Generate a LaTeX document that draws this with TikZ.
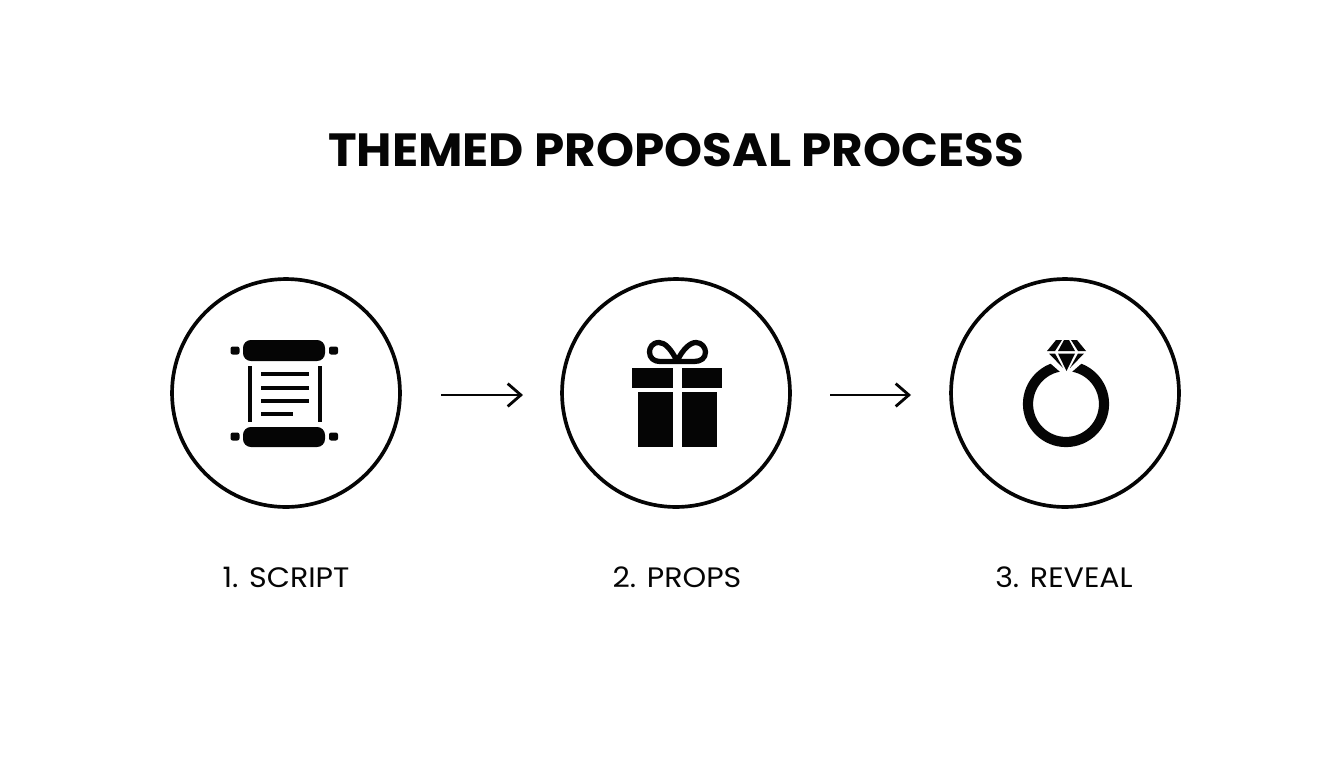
\documentclass[tikz,border=0pt]{standalone}
\usepackage{fontspec}
\setmainfont{Poppins}
\newfontfamily\titlefont[FakeStretch=1.04]{Poppins}
\newfontfamily\labelfont[FakeStretch=1.07]{Poppins}
\usetikzlibrary{arrows.meta}
\definecolor{inkblack}{RGB}{5,5,5}
\tikzset{
    stepring/.style={draw=inkblack, line width=2.1pt, circle, minimum size=4.56cm, inner sep=0pt},
    flowarrow/.style={draw=inkblack, line width=1.6pt, -{Straight Barb[length=7.5pt, width=13pt, line width=1.6pt]}},
    steplabel/.style={text=inkblack, font=\labelfont\fontsize{16pt}{18pt}\selectfont},
    titletext/.style={text=inkblack, font=\titlefont\fontsize{26.5pt}{30pt}\selectfont\bfseries},
    solid ink/.style={fill=inkblack, draw=none},
    page line/.style={draw=inkblack, line width=2.2pt}
}
\begin{document}
\begin{tikzpicture}[x=0.02cm, y=-0.02cm]
    \useasboundingbox (0, 0) rectangle (1344, 768);

    \node[titletext] (title) at (676, 150) {THEMED PROPOSAL PROCESS};

    % circles
    \node[stepring] (script) at (286, 393) {};
    \node[stepring] (props) at (676, 393) {};
    \node[stepring] (reveal) at (1065, 393) {};

    % arrows
    \coordinate (arrowa) at (441, 395);
    \coordinate (arrowb) at (523, 395);
    \coordinate (arrowc) at (830, 395);
    \coordinate (arrowd) at (911, 395);
    \draw[flowarrow] (arrowa) -- (arrowb);
    \draw[flowarrow] (arrowc) -- (arrowd);

    % labels
    \node[steplabel] (scriptlabel) at (286, 577) {1. SCRIPT};
    \node[steplabel] (propslabel) at (677, 577) {2. PROPS};
    \node[steplabel] (reveallabel) at (1064, 577) {3. REVEAL};

    % scroll
    \fill[solid ink, rounded corners=4.5pt] (243, 340) rectangle (325, 361);
    \fill[solid ink, rounded corners=4.5pt] (243, 427) rectangle (325, 447);
    \fill[solid ink, rounded corners=1.2pt] (230.5, 346.5) rectangle (239.5, 354.5);
    \fill[solid ink, rounded corners=1.2pt] (329, 346.5) rectangle (338, 354.5);
    \fill[solid ink, rounded corners=1.2pt] (230.5, 432.5) rectangle (239.5, 440.5);
    \fill[solid ink, rounded corners=1.2pt] (329, 432.5) rectangle (338, 440.5);
    \fill[solid ink] (248, 366) rectangle (252, 422);
    \fill[solid ink] (318, 366) rectangle (322, 422);
    \draw[page line] (261, 374) -- (309, 374);
    \draw[page line] (261, 388) -- (309, 388);
    \draw[page line] (261, 401) -- (309, 401);
    \draw[page line] (261, 414) -- (293, 414);

    % gift
    \fill[solid ink] (632, 368) rectangle (673, 388);
    \fill[solid ink] (682, 368) rectangle (722, 388);
    \fill[solid ink] (638, 392) rectangle (673, 447);
    \fill[solid ink] (682, 392) rectangle (717, 447);
    \draw[inkblack, line width=3pt, line join=round]
        (677, 361) .. controls (671, 349) and (665, 342.5) .. (659, 342.5)
        .. controls (652, 342.5) and (649.5, 348) .. (649.5, 352)
        .. controls (649.5, 358) and (654, 361.5) .. (660, 361.5)
        -- (694, 361.5)
        .. controls (701, 361.5) and (705.5, 358) .. (705.5, 352)
        .. controls (705.5, 348) and (702, 342.5) .. (696, 342.5)
        .. controls (690, 342.5) and (683, 349) .. (677, 361);

    % ring
    \draw[inkblack, line width=5.8pt] (1066, 404) circle (38);
    \fill[white] (1044, 350) -- (1088, 350) -- (1090, 356) -- (1066, 377) -- (1042, 356) -- cycle;
    \fill[solid ink] (1047, 351) -- (1056, 340) -- (1062, 340) -- (1055, 351) -- cycle;
    \fill[solid ink] (1058, 351) -- (1064, 340) -- (1069, 340) -- (1075, 351) -- cycle;
    \fill[solid ink] (1078, 351) -- (1071, 340) -- (1077, 340) -- (1086, 351) -- cycle;
    \fill[solid ink] (1049, 353.5) -- (1055, 353.5) -- (1063, 368) -- cycle;
    \fill[solid ink] (1058, 353.5) -- (1075, 353.5) -- (1066.5, 371) -- cycle;
    \fill[solid ink] (1078, 353.5) -- (1084, 353.5) -- (1070, 368) -- cycle;
\end{tikzpicture}
\end{document}
